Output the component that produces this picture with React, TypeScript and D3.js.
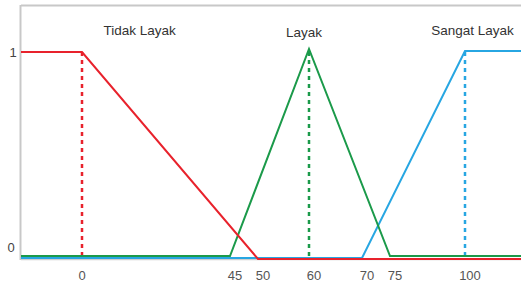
import { useEffect, useRef } from 'react';
import * as d3 from 'd3';

// breakpoints of the (hand-drawn, non-uniform) x axis
const xBreaks = [-15, 0, 45, 50, 60, 70, 75, 100, 115];
const xTicks = [0, 45, 50, 60, 70, 75, 100];

// membership functions: [x, mu]
const tidakLayak: [number, number][] = [[-15, 1], [0, 1], [50, 0], [115, 0]];
const layak: [number, number][] = [[-15, 0], [45, 0], [60, 1], [75, 0], [115, 0]];
const sangatLayak: [number, number][] = [[-15, 0], [70, 0], [100, 1], [115, 1]];

const labels = ['Tidak Layak', 'Layak', 'Sangat Layak'];
const labelX = [17.5, 59, 102];
const peaks = [0, 60, 100];

export default function App() {
  const ref = useRef<SVGSVGElement>(null);

  useEffect(() => {
    if (!ref.current) return;
    const svg = d3.select(ref.current);
    svg.selectAll('*').remove();

    const W = 521;
    const H = 284;

    const x = d3.scaleLinear()
      .domain(xBreaks)
      .range([21, 82, 230, 258, 309, 362, 390, 465, 521]);
    const y = d3.scaleLinear().domain([0, 1]).range([257, 50]);

    // frame
    svg.append('line')
      .attr('x1', 21).attr('x2', W).attr('y1', 5.5).attr('y2', 5.5)
      .attr('stroke', '#c8c8c8').attr('stroke-width', 2);
    svg.append('line')
      .attr('x1', 20.5).attr('x2', 20.5).attr('y1', 5).attr('y2', 260)
      .attr('stroke', '#c8c8c8').attr('stroke-width', 2);
    svg.append('line')
      .attr('x1', 21).attr('x2', W).attr('y1', 259.5).attr('y2', 259.5)
      .attr('stroke', '#cfcfcf').attr('stroke-width', 1.5);

    const series = [
      { data: tidakLayak, color: '#e8222c', off: 2 },
      { data: layak, color: '#1b9a4a', off: -1 },
      { data: sangatLayak, color: '#27a6e2', off: 1 },
    ];

    const line = d3.line<[number, number]>()
      .x((d) => x(d[0]))
      .y((d) => y(d[1]));

    // dotted guides at peaks
    series.forEach((s, i) => {
      svg.append('line')
        .attr('x1', x(peaks[i])).attr('x2', x(peaks[i]))
        .attr('y1', y(1) + 2).attr('y2', y(0))
        .attr('stroke', s.color)
        .attr('stroke-width', 2.5)
        .attr('stroke-dasharray', '4,4');
    });

    // draw order: blue, green, red on top near baseline
    [2, 1, 0].forEach((i) => {
      const s = series[i];
      svg.append('path')
        .datum(s.data)
        .attr('d', line)
        .attr('transform', `translate(0,${s.off})`)
        .attr('fill', 'none')
        .attr('stroke', s.color)
        .attr('stroke-width', 2);
    });

    // y labels
    svg.append('text')
      .attr('x', 13).attr('y', y(1) + 2)
      .attr('dy', '0.35em')
      .attr('text-anchor', 'middle')
      .attr('fill', '#444')
      .attr('font-size', '13px')
      .attr('font-family', 'Liberation Sans, Arial, sans-serif')
      .text('1');
    svg.append('text')
      .attr('x', 11).attr('y', 247)
      .attr('dy', '0.35em')
      .attr('text-anchor', 'middle')
      .attr('fill', '#444')
      .attr('font-size', '13px')
      .attr('font-family', 'Liberation Sans, Arial, sans-serif')
      .text('0');

    // x tick labels
    xTicks.forEach((t) => {
      svg.append('text')
        .attr('x', x(t) + (t === 0 ? 0 : 5))
        .attr('y', 275)
        .attr('dy', '0.35em')
        .attr('text-anchor', 'middle')
        .attr('fill', '#555')
        .attr('font-size', '13px')
        .attr('font-family', 'Liberation Sans, Arial, sans-serif')
        .text(t);
    });

    // set labels
    labels.forEach((l, i) => {
      svg.append('text')
        .attr('x', x(labelX[i]))
        .attr('y', i === 1 ? 32 : 30)
        .attr('dy', '0.35em')
        .attr('text-anchor', 'middle')
        .attr('fill', '#333')
        .attr('font-size', '13.5px')
        .attr('font-family', 'Liberation Sans, Arial, sans-serif')
        .text(l);
    });

    svg.attr('width', W).attr('height', H).attr('viewBox', `0 0 ${W} ${H}`);
  }, []);

  return (
    <svg
      ref={ref}
      style={{ position: 'absolute', left: 0, top: 0, background: '#fff', display: 'block' }}
    />
  );
}
